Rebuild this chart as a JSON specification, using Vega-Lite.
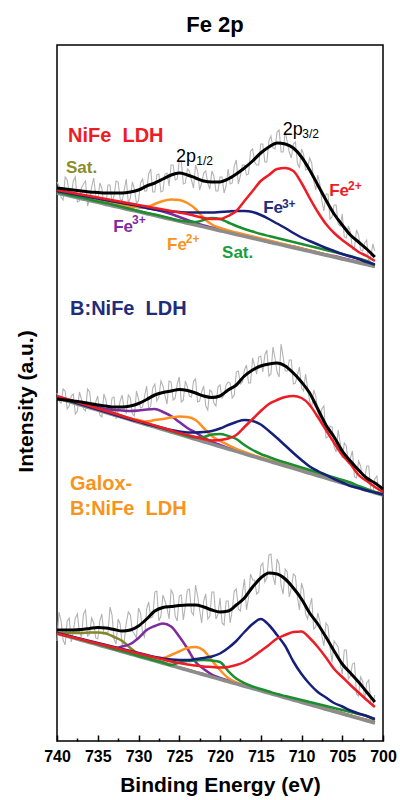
{
"$schema":"https://vega.github.io/schema/vega-lite/v6.json",
"width":326,"height":696,
"autosize":{"type":"none"},
"padding":{"left":57,"top":45,"right":17,"bottom":59},
"background":"white",
"title":{"text":"Fe 2p","fontSize":22,"fontWeight":"bold","font":"Liberation Sans","color":"#000","frame":"group","anchor":"middle","offset":8,"dx":-5},
"config":{"view":{"stroke":"#000","strokeWidth":1.5},"font":"Liberation Sans"},
"resolve":{"axis":{"x":"independent","y":"independent"}},
"datasets":{
"fit":[
{"s":"A","E":740,"bg":548,"env":553,"r":551,"n":550,"o":549,"p":549,"g":549,"ol":549},
{"s":"A","E":739,"bg":546.1,"env":552,"r":549.5,"n":548.5,"o":547,"p":547,"g":547,"ol":547},
{"s":"A","E":738,"bg":544.2,"env":551,"r":548,"n":547,"o":545,"p":545.5,"g":545,"ol":545.5},
{"s":"A","E":737,"bg":542.3,"env":550,"r":546.5,"n":545.5,"o":543.5,"p":544,"g":543.5,"ol":544},
{"s":"A","E":736,"bg":540.5,"env":549,"r":545,"n":544,"o":542,"p":542.5,"g":541.5,"ol":542.5},
{"s":"A","E":735,"bg":538.6,"env":548.5,"r":543.5,"n":542.5,"o":540,"p":541,"g":539.5,"ol":541},
{"s":"A","E":734,"bg":536.7,"env":548,"r":542,"n":541,"o":538.5,"p":539.5,"g":538,"ol":539},
{"s":"A","E":733,"bg":534.8,"env":548,"r":540.5,"n":539.5,"o":537,"p":538,"g":536,"ol":537},
{"s":"A","E":732,"bg":532.9,"env":548,"r":539,"n":538,"o":535.5,"p":536.5,"g":534,"ol":534.5},
{"s":"A","E":731,"bg":531,"env":549,"r":537.5,"n":536.5,"o":534.5,"p":535,"g":532,"ol":532},
{"s":"A","E":730,"bg":529.2,"env":551,"r":536,"n":535,"o":534,"p":534,"g":530,"ol":530},
{"s":"A","E":729,"bg":527.3,"env":555,"r":534.5,"n":533,"o":534,"p":533,"g":528,"ol":528},
{"s":"A","E":728,"bg":525.4,"env":558,"r":533,"n":531.5,"o":537,"p":531.5,"g":526.5,"ol":526},
{"s":"A","E":727,"bg":523.5,"env":562,"r":531.5,"n":530.5,"o":540,"p":529.5,"g":524.5,"ol":524},
{"s":"A","E":726,"bg":521.6,"env":566,"r":530,"n":529.5,"o":541.5,"p":527,"g":522.5,"ol":522},
{"s":"A","E":725,"bg":519.7,"env":568,"r":528.5,"n":529,"o":541,"p":524,"g":520.5,"ol":520},
{"s":"A","E":724,"bg":517.8,"env":566,"r":527,"n":528.5,"o":538,"p":521,"g":519.5,"ol":518},
{"s":"A","E":723,"bg":516,"env":563,"r":525,"n":528.5,"o":532,"p":518,"g":519,"ol":516.5},
{"s":"A","E":722,"bg":514.1,"env":560,"r":523,"n":528.5,"o":523,"p":515.5,"g":521,"ol":514.5},
{"s":"A","E":721,"bg":512.2,"env":559,"r":522,"n":528.5,"o":516.5,"p":513.5,"g":523,"ol":512.5},
{"s":"A","E":720,"bg":510.3,"env":559,"r":522,"n":529,"o":513,"p":511.5,"g":522,"ol":510.5},
{"s":"A","E":719,"bg":508.4,"env":562,"r":525,"n":529.5,"o":510.5,"p":509.5,"g":518.5,"ol":509},
{"s":"A","E":718,"bg":506.5,"env":567,"r":530,"n":530,"o":508.5,"p":507.5,"g":515,"ol":507},
{"s":"A","E":717,"bg":504.6,"env":573,"r":540,"n":530,"o":506.5,"p":505.5,"g":512,"ol":505},
{"s":"A","E":716,"bg":502.8,"env":580,"r":550,"n":529,"o":504.5,"p":504,"g":509.5,"ol":503},
{"s":"A","E":715,"bg":500.9,"env":588,"r":560,"n":526,"o":502.5,"p":502,"g":507,"ol":501},
{"s":"A","E":714,"bg":499,"env":594,"r":566,"n":522,"o":500.5,"p":500,"g":505,"ol":499},
{"s":"A","E":713,"bg":497.1,"env":598,"r":572,"n":517.5,"o":498.5,"p":498,"g":503,"ol":497.5},
{"s":"A","E":712,"bg":495.2,"env":597,"r":573,"n":513,"o":496.5,"p":496,"g":501,"ol":495.5},
{"s":"A","E":711,"bg":493.3,"env":593,"r":570,"n":508,"o":494.5,"p":494.5,"g":499,"ol":493.5},
{"s":"A","E":710,"bg":491.4,"env":584,"r":558,"n":503.5,"o":492.5,"p":492.5,"g":497,"ol":491.5},
{"s":"A","E":709,"bg":489.6,"env":571,"r":543,"n":500,"o":490.5,"p":490.5,"g":495,"ol":490},
{"s":"A","E":708,"bg":487.7,"env":556,"r":529,"n":496.5,"o":488.5,"p":488.5,"g":493,"ol":488},
{"s":"A","E":707,"bg":485.8,"env":541,"r":517,"n":493,"o":486.5,"p":486.5,"g":491,"ol":486},
{"s":"A","E":706,"bg":483.9,"env":527,"r":508,"n":490,"o":484.5,"p":485,"g":489,"ol":484},
{"s":"A","E":705,"bg":482,"env":516,"r":501,"n":487,"o":482.5,"p":483,"g":487,"ol":482},
{"s":"A","E":704,"bg":480.1,"env":506,"r":495,"n":484.5,"o":480.5,"p":481,"g":485,"ol":480.5},
{"s":"A","E":703,"bg":478.3,"env":499,"r":489,"n":482,"o":479,"p":479,"g":482.5,"ol":478.5},
{"s":"A","E":702,"bg":476.4,"env":492,"r":485,"n":479,"o":477,"p":477.5,"g":480,"ol":476.5},
{"s":"A","E":701,"bg":474.5,"env":484,"r":480,"n":476.5,"o":475,"p":475.5,"g":476,"ol":474.5},
{"s":"B","E":740,"bg":343,"env":342,"r":345,"n":344,"o":344,"p":344,"g":344,"ol":344},
{"s":"B","E":739,"bg":340.6,"env":341,"r":342.5,"n":341.5,"o":341.5,"p":342,"g":341.5,"ol":342},
{"s":"B","E":738,"bg":338.1,"env":340,"r":340,"n":339,"o":339,"p":340,"g":339,"ol":340},
{"s":"B","E":737,"bg":335.7,"env":339,"r":337.5,"n":336.5,"o":336.5,"p":338,"g":336.5,"ol":338},
{"s":"B","E":736,"bg":333.3,"env":337.5,"r":335,"n":334,"o":334,"p":336,"g":334,"ol":335.5},
{"s":"B","E":735,"bg":330.9,"env":336,"r":332.5,"n":331.5,"o":332,"p":333.5,"g":332,"ol":333},
{"s":"B","E":734,"bg":328.4,"env":335,"r":330,"n":329,"o":329.5,"p":332,"g":329.5,"ol":330.5},
{"s":"B","E":733,"bg":326,"env":334,"r":327.5,"n":326.5,"o":327,"p":331,"g":327,"ol":328},
{"s":"B","E":732,"bg":323.6,"env":334,"r":325,"n":324,"o":325,"p":330.5,"g":324.5,"ol":325},
{"s":"B","E":731,"bg":321.1,"env":335,"r":322.5,"n":321.5,"o":322.5,"p":330,"g":322,"ol":322},
{"s":"B","E":730,"bg":318.7,"env":337.5,"r":320,"n":319.5,"o":321,"p":330.5,"g":319.5,"ol":319.5},
{"s":"B","E":729,"bg":316.3,"env":341.5,"r":318,"n":317,"o":319.5,"p":331.5,"g":317,"ol":316.5},
{"s":"B","E":728,"bg":313.9,"env":346,"r":315.5,"n":315,"o":321,"p":332,"g":315,"ol":314.5},
{"s":"B","E":727,"bg":311.4,"env":348.5,"r":313,"n":313,"o":322,"p":329,"g":312.5,"ol":312},
{"s":"B","E":726,"bg":309,"env":350,"r":310.5,"n":311,"o":323.5,"p":325,"g":310,"ol":309.5},
{"s":"B","E":725,"bg":306.6,"env":351.5,"r":308,"n":309.5,"o":324.5,"p":319,"g":307.5,"ol":307},
{"s":"B","E":724,"bg":304.1,"env":350.5,"r":306,"n":308.5,"o":324,"p":313,"g":305,"ol":304.5},
{"s":"B","E":723,"bg":301.7,"env":348,"r":304,"n":308.5,"o":321,"p":308.5,"g":303.5,"ol":302},
{"s":"B","E":722,"bg":299.3,"env":345,"r":302,"n":309,"o":313,"p":303.5,"g":304,"ol":299.5},
{"s":"B","E":721,"bg":296.8,"env":343.5,"r":300.5,"n":310,"o":305,"p":299,"g":306.5,"ol":297},
{"s":"B","E":720,"bg":294.4,"env":345,"r":301,"n":312.5,"o":300,"p":296,"g":307,"ol":295},
{"s":"B","E":719,"bg":292,"env":351,"r":302.5,"n":316,"o":296,"p":293,"g":305,"ol":292.5},
{"s":"B","E":718,"bg":289.6,"env":356,"r":306,"n":319,"o":292,"p":290.5,"g":302,"ol":290},
{"s":"B","E":717,"bg":287.1,"env":365,"r":314,"n":321,"o":289,"p":288,"g":296,"ol":287.5},
{"s":"B","E":716,"bg":284.7,"env":371,"r":322,"n":320,"o":286,"p":285.5,"g":291,"ol":285},
{"s":"B","E":715,"bg":282.3,"env":375,"r":330,"n":316.5,"o":283.5,"p":283,"g":287,"ol":282.5},
{"s":"B","E":714,"bg":279.8,"env":377,"r":337,"n":310,"o":281,"p":280.5,"g":284,"ol":280},
{"s":"B","E":713,"bg":277.4,"env":378,"r":341,"n":303,"o":278.5,"p":278,"g":281,"ol":278},
{"s":"B","E":712,"bg":275,"env":375,"r":344,"n":295.5,"o":276,"p":275.5,"g":278.5,"ol":275.5},
{"s":"B","E":711,"bg":272.6,"env":368,"r":345,"n":288,"o":273.5,"p":273,"g":276,"ol":273},
{"s":"B","E":710,"bg":270.1,"env":359,"r":343,"n":281,"o":271,"p":271,"g":273.5,"ol":270.5},
{"s":"B","E":709,"bg":267.7,"env":348,"r":336,"n":274.5,"o":268.5,"p":268.5,"g":271,"ol":268},
{"s":"B","E":708,"bg":265.3,"env":332,"r":324,"n":270,"o":266,"p":266,"g":268.5,"ol":265.5},
{"s":"B","E":707,"bg":262.8,"env":316,"r":311,"n":266,"o":263.5,"p":263.5,"g":266,"ol":263},
{"s":"B","E":706,"bg":260.4,"env":304,"r":298,"n":262,"o":261,"p":261,"g":263.5,"ol":261},
{"s":"B","E":705,"bg":258,"env":290,"r":286,"n":258.5,"o":258.5,"p":258.5,"g":261,"ol":258.5},
{"s":"B","E":704,"bg":255.6,"env":280,"r":277,"n":255,"o":256,"p":256,"g":258.5,"ol":256},
{"s":"B","E":703,"bg":253.1,"env":271,"r":266,"n":253,"o":254,"p":253.5,"g":255,"ol":253.5},
{"s":"B","E":702,"bg":250.7,"env":263,"r":260,"n":250.5,"o":251.5,"p":251,"g":252,"ol":251},
{"s":"B","E":701,"bg":248.3,"env":258,"r":254,"n":248.5,"o":249,"p":248.5,"g":249,"ol":248.5},
{"s":"B","E":700,"bg":245.8,"env":252,"r":249,"n":246.5,"o":246.5,"p":246,"g":246.5,"ol":246},
{"s":"C","E":740,"bg":107.7,"env":111,"r":107.5,"n":108,"o":108,"p":108,"g":108,"ol":107.5},
{"s":"C","E":739,"bg":105.4,"env":111,"r":105.5,"n":106,"o":106,"p":106,"g":106,"ol":108},
{"s":"C","E":738,"bg":103.1,"env":111,"r":103.5,"n":104,"o":103.5,"p":103.5,"g":103.5,"ol":108},
{"s":"C","E":737,"bg":100.8,"env":111.5,"r":101.5,"n":102,"o":101.5,"p":101.5,"g":101.5,"ol":108},
{"s":"C","E":736,"bg":98.5,"env":112.5,"r":99.5,"n":100,"o":99,"p":99,"g":99,"ol":108.5},
{"s":"C","E":735,"bg":96.2,"env":113.5,"r":97.5,"n":98,"o":97,"p":97,"g":97,"ol":108.5},
{"s":"C","E":734,"bg":93.9,"env":113,"r":95.5,"n":96,"o":94.5,"p":94.5,"g":94.5,"ol":107.5},
{"s":"C","E":733,"bg":91.6,"env":111.5,"r":93.5,"n":94,"o":92.5,"p":92.5,"g":92,"ol":104},
{"s":"C","E":732,"bg":89.3,"env":110,"r":91.5,"n":92,"o":90,"p":94.5,"g":90,"ol":100},
{"s":"C","E":731,"bg":87,"env":111,"r":89.5,"n":90,"o":88,"p":97,"g":87.5,"ol":93},
{"s":"C","E":730,"bg":84.7,"env":115,"r":87.5,"n":88,"o":86,"p":103,"g":85,"ol":87},
{"s":"C","E":729,"bg":82.4,"env":122,"r":85.5,"n":86,"o":84.5,"p":111,"g":83,"ol":83.5},
{"s":"C","E":728,"bg":80.1,"env":130,"r":83.5,"n":84,"o":83.5,"p":115,"g":80.5,"ol":81},
{"s":"C","E":727,"bg":77.8,"env":133.5,"r":81.5,"n":82.5,"o":83,"p":117.5,"g":78.5,"ol":78.5},
{"s":"C","E":726,"bg":75.5,"env":134.5,"r":79.5,"n":81.5,"o":86,"p":114.5,"g":76,"ol":76},
{"s":"C","E":725,"bg":73.2,"env":135.5,"r":78,"n":81,"o":89.5,"p":104.5,"g":78.5,"ol":73.5},
{"s":"C","E":724,"bg":70.9,"env":136,"r":76.5,"n":81,"o":93,"p":92.5,"g":80,"ol":71.5},
{"s":"C","E":723,"bg":68.6,"env":136,"r":75.5,"n":82,"o":94,"p":79,"g":80.5,"ol":69},
{"s":"C","E":722,"bg":66.3,"env":134,"r":74.5,"n":83,"o":90.5,"p":72,"g":81,"ol":67},
{"s":"C","E":721,"bg":64,"env":131,"r":74,"n":84.5,"o":80.5,"p":66.5,"g":80.5,"ol":64.5},
{"s":"C","E":720,"bg":61.7,"env":129,"r":73.5,"n":87.5,"o":71,"p":63,"g":79,"ol":62},
{"s":"C","E":719,"bg":59.4,"env":130,"r":74,"n":93,"o":63,"p":60.5,"g":70,"ol":60},
{"s":"C","E":718,"bg":57.1,"env":136,"r":76,"n":100,"o":58.5,"p":58,"g":62.5,"ol":57.5},
{"s":"C","E":717,"bg":54.8,"env":143,"r":79,"n":109,"o":56,"p":55.5,"g":58,"ol":55.5},
{"s":"C","E":716,"bg":52.5,"env":154,"r":84,"n":117,"o":53.5,"p":53,"g":54.5,"ol":53},
{"s":"C","E":715,"bg":50.2,"env":163,"r":90,"n":122,"o":51,"p":51,"g":52,"ol":50.5},
{"s":"C","E":714,"bg":47.9,"env":168,"r":96,"n":116,"o":48.5,"p":48.5,"g":49.5,"ol":48.5},
{"s":"C","E":713,"bg":45.6,"env":167,"r":102.5,"n":106,"o":46.5,"p":46,"g":47,"ol":46},
{"s":"C","E":712,"bg":43.3,"env":162,"r":106,"n":95,"o":44,"p":44,"g":45,"ol":44},
{"s":"C","E":711,"bg":41,"env":153,"r":109,"n":79.5,"o":42,"p":41.5,"g":43,"ol":41.5},
{"s":"C","E":710,"bg":38.7,"env":142,"r":109.5,"n":67,"o":39.5,"p":39.5,"g":41,"ol":39},
{"s":"C","E":709,"bg":36.4,"env":128,"r":103,"n":57,"o":37,"p":37,"g":39,"ol":37},
{"s":"C","E":708,"bg":34.1,"env":117,"r":94,"n":49,"o":35,"p":34.5,"g":37,"ol":34.5},
{"s":"C","E":707,"bg":31.8,"env":104,"r":83.5,"n":43.5,"o":32.5,"p":32.5,"g":35,"ol":32.5},
{"s":"C","E":706,"bg":29.5,"env":90,"r":72,"n":38,"o":30,"p":30,"g":33,"ol":30},
{"s":"C","E":705,"bg":27.2,"env":77,"r":64,"n":34.5,"o":28,"p":28,"g":31,"ol":27.5},
{"s":"C","E":704,"bg":24.9,"env":68,"r":56,"n":30.5,"o":25.5,"p":25.5,"g":29,"ol":25.5},
{"s":"C","E":703,"bg":22.6,"env":59,"r":48.5,"n":27.5,"o":23.5,"p":23,"g":27,"ol":23},
{"s":"C","E":702,"bg":20.3,"env":49,"r":41,"n":25,"o":21,"p":21,"g":25,"ol":21},
{"s":"C","E":701,"bg":18,"env":39,"r":34,"n":22,"o":19,"p":18.5,"g":21,"ol":18.5}
],
"raw":[
{"E":740,"a":559,"b":348,"c":100},{"E":739.5,"a":544,"b":338,"c":120},{"E":739,"a":564,"b":350,"c":96},{"E":738.5,"a":548,"b":335,"c":123},
{"E":738,"a":560,"b":347,"c":109},{"E":737.5,"a":539,"b":330,"c":127},{"E":737,"a":553,"b":342,"c":104},{"E":736.5,"a":560,"b":330,"c":131},
{"E":736,"a":542,"b":349,"c":107},{"E":735.5,"a":563,"b":332,"c":118},{"E":735,"a":539,"b":345,"c":102},{"E":734.5,"a":553,"b":324,"c":127},
{"E":734,"a":535,"b":341,"c":109},{"E":733.5,"a":556,"b":326,"c":134},{"E":733,"a":545,"b":344,"c":102},{"E":732.5,"a":559,"b":330,"c":122},
{"E":732,"a":540,"b":346,"c":96},{"E":731.5,"a":562,"b":328,"c":118},{"E":731,"a":543,"b":343,"c":126},{"E":730.5,"a":552,"b":325,"c":107},
{"E":730,"a":540,"b":342,"c":133},{"E":729.5,"a":562,"b":334,"c":108},{"E":729,"a":550,"b":355,"c":132},{"E":728.5,"a":572,"b":335,"c":123},
{"E":728,"a":549,"b":357,"c":149},{"E":727.5,"a":567,"b":344,"c":120},{"E":727,"a":550,"b":355,"c":146},{"E":726.5,"a":568,"b":337,"c":133},
{"E":726,"a":576,"b":359,"c":151},{"E":725.5,"a":561,"b":343,"c":125},{"E":725,"a":580,"b":364,"c":145},{"E":724.5,"a":557,"b":341,"c":121},
{"E":724,"a":572,"b":354,"c":151},{"E":723.5,"a":561,"b":344,"c":129},{"E":723,"a":576,"b":362,"c":156},{"E":722.5,"a":551,"b":340,"c":131},
{"E":722,"a":568,"b":355,"c":140},{"E":721.5,"a":558,"b":331,"c":122},{"E":721,"a":570,"b":349,"c":149},{"E":720.5,"a":550,"b":335,"c":122},
{"E":720,"a":564,"b":356,"c":143},{"E":719.5,"a":548,"b":346,"c":116},{"E":719,"a":572,"b":359,"c":140},{"E":718.5,"a":558,"b":343,"c":131},
{"E":718,"a":581,"b":369,"c":152},{"E":717.5,"a":565,"b":357,"c":130},{"E":717,"a":576,"b":371,"c":162},{"E":716.5,"a":567,"b":358,"c":143},
{"E":716,"a":592,"b":383,"c":161},{"E":715.5,"a":576,"b":367,"c":147},{"E":715,"a":597,"b":385,"c":175},{"E":714.5,"a":579,"b":386,"c":159},
{"E":714,"a":600,"b":365,"c":186},{"E":713.5,"a":593,"b":394,"c":165},{"E":713,"a":609,"b":369,"c":182},{"E":712.5,"a":589,"b":397,"c":155},
{"E":712,"a":610,"b":370,"c":172},{"E":711.5,"a":589,"b":381,"c":144},{"E":711,"a":597,"b":357,"c":167},{"E":710.5,"a":578,"b":366,"c":144},
{"E":710,"a":592,"b":353,"c":158},{"E":709.5,"a":571,"b":367,"c":127},{"E":709,"a":583,"b":340,"c":134},{"E":708.5,"a":560,"b":351,"c":112},
{"E":708,"a":566,"b":329,"c":128},{"E":707.5,"a":540,"b":332,"c":105},{"E":707,"a":547,"b":303,"c":118},{"E":706.5,"a":522,"b":315,"c":94},
{"E":706,"a":536,"b":294,"c":100},{"E":705.5,"a":517,"b":311,"c":94},{"E":705,"a":527,"b":283,"c":67},{"E":704.5,"a":503,"b":295,"c":91},
{"E":704,"a":509,"b":283,"c":65},{"E":703.5,"a":493,"b":264,"c":78},{"E":703,"a":506,"b":280,"c":45},{"E":702.5,"a":490,"b":263,"c":60},
{"E":702,"a":501,"b":275,"c":58},{"E":701.5,"a":484,"b":251,"c":37},{"E":701,"a":490,"b":262,"c":46},{"E":700.5,"b":246},{"E":700,"b":254},
{"E":739.75,"a":555,"b":340,"c":129},{"E":739.25,"a":541,"b":352,"c":101},{"E":738.75,"a":561,"b":332,"c":120},{"E":738.25,"a":546,"b":345,"c":99},
{"E":737.75,"a":564,"b":327,"c":123},{"E":737.25,"a":540,"b":349,"c":109},{"E":736.75,"a":557,"b":332,"c":127},{"E":736.25,"a":535,"b":352,"c":105},
{"E":735.75,"a":554,"b":332,"c":123},{"E":735.25,"a":546,"b":339,"c":103},{"E":734.75,"a":558,"b":326,"c":120},{"E":734.25,"a":536,"b":347,"c":107},
{"E":733.75,"a":556,"b":327,"c":107},{"E":733.25,"a":539,"b":343,"c":126},{"E":732.75,"a":560,"b":322,"c":97},{"E":732.25,"a":542,"b":340,"c":117},
{"E":731.75,"a":551,"b":331,"c":100},{"E":731.25,"a":538,"b":346,"c":129},{"E":730.75,"a":559,"b":327,"c":110},{"E":730.25,"a":538,"b":350,"c":103},
{"E":729.75,"a":558,"b":333,"c":128},{"E":729.25,"a":550,"b":345,"c":104},{"E":728.75,"a":567,"b":332,"c":139},{"E":728.25,"a":549,"b":353,"c":124},
{"E":727.75,"a":566,"b":340,"c":150},{"E":727.25,"a":549,"b":360,"c":125},{"E":726.75,"a":567,"b":345,"c":140},{"E":726.25,"a":555,"b":360,"c":122},
{"E":725.75,"a":576,"b":341,"c":147},{"E":725.25,"a":562,"b":357,"c":120},{"E":724.75,"a":580,"b":339,"c":146},{"E":724.25,"a":558,"b":360,"c":135},
{"E":723.75,"a":570,"b":345,"c":152},{"E":723.25,"a":553,"b":360,"c":126},{"E":722.75,"a":570,"b":339,"c":145},{"E":722.25,"a":558,"b":349,"c":118},
{"E":721.75,"a":570,"b":335,"c":147},{"E":721.25,"a":552,"b":351,"c":125},{"E":720.75,"a":565,"b":338,"c":149},{"E":720.25,"a":550,"b":354,"c":127},
{"E":719.75,"a":564,"b":343,"c":118},{"E":719.25,"a":555,"b":356,"c":140},{"E":718.75,"a":557,"b":358,"c":118},{"E":718.25,"a":575,"b":346,"c":150},
{"E":717.75,"a":557,"b":370,"c":132},{"E":717.25,"a":576,"b":359,"c":148},{"E":716.75,"a":566,"b":376,"c":131},{"E":716.25,"a":590,"b":358,"c":167},
{"E":715.75,"a":579,"b":375,"c":161},{"E":715.25,"a":576,"b":384,"c":149},{"E":714.75,"a":597,"b":369,"c":178},{"E":714.25,"a":579,"b":391,"c":163},
{"E":713.75,"a":605,"b":367,"c":187},{"E":713.25,"a":592,"b":383,"c":156},{"E":712.75,"a":611,"b":364,"c":177},{"E":712.25,"a":589,"b":384,"c":147},
{"E":711.75,"a":599,"b":370,"c":169},{"E":711.25,"a":583,"b":381,"c":153},{"E":710.75,"a":599,"b":358,"c":165},{"E":710.25,"a":573,"b":374,"c":131},
{"E":709.75,"a":587,"b":350,"c":151},{"E":709.25,"a":572,"b":353,"c":122},{"E":708.75,"a":578,"b":333,"c":143},{"E":708.25,"a":551,"b":345,"c":114},
{"E":707.75,"a":557,"b":323,"c":120},{"E":707.25,"a":530,"b":335,"c":95},{"E":706.75,"a":547,"b":304,"c":115},{"E":706.25,"a":524,"b":314,"c":79},
{"E":705.75,"a":536,"b":289,"c":97},{"E":705.25,"a":515,"b":298,"c":77},{"E":704.75,"a":504,"b":298,"c":91},{"E":704.25,"a":515,"b":277,"c":62},
{"E":703.75,"a":492,"b":290,"c":77},{"E":703.25,"a":511,"b":263,"c":47},{"E":702.75,"a":491,"b":275,"c":64},{"E":702.25,"a":498,"b":261,"c":41},
{"E":701.75,"a":477,"b":275,"c":61},{"E":701.25,"a":497,"b":248,"c":36},{"E":700.75,"b":265},{"E":700.25,"b":252}
],
"names":[
{"t":"NiFe\u00a0 LDH","E":738.65,"v":599,"k":"NiFe LDH"},
{"t":"B:NiFe\u00a0 LDH","E":738.4,"v":426,"k":"B:NiFe LDH"},
{"t":"Galox-","E":738.4,"v":251,"k":"Galox-B:NiFe LDH"},
{"t":"B:NiFe\u00a0 LDH","E":738.4,"v":226,"k":"Galox-B:NiFe LDH"}
],
"tags":[
{"t":"Sat.","E":738.9,"v":568,"k":"Sat. 735"},
{"t":"Fe","E":706.6,"v":545,"k":"Fe2+ 2p3/2"},
{"t":"Fe","E":714.7,"v":528,"k":"Fe3+ 2p3/2"},
{"t":"Fe","E":733.1,"v":509,"k":"Fe3+ 2p1/2"},
{"t":"Fe","E":726.5,"v":491,"k":"Fe2+ 2p1/2"},
{"t":"Sat.","E":719.75,"v":483,"k":"Sat. 719"}
],
"sups":[
{"t":"2+","E":704.3,"v":551,"k":"Fe2+ 2p3/2"},
{"t":"3+","E":712.4,"v":533,"k":"Fe3+ 2p3/2"},
{"t":"3+","E":730.8,"v":517,"k":"Fe3+ 2p1/2"},
{"t":"2+","E":724.2,"v":498,"k":"Fe2+ 2p1/2"}
],
"peaks":[{"t":"2p","E":725.4,"v":579},{"t":"2p","E":712.3,"v":606}],
"subs":[{"t":"1/2","E":722.9,"v":576},{"t":"3/2","E":709.9,"v":603}]
},
"layer":[
{"data":{"name":"raw"},"mark":{"type":"line","color":"#b3b3b3","strokeWidth":1.1},
 "encoding":{
  "x":{"field":"E","type":"quantitative","scale":{"domain":[700,740],"reverse":true,"nice":false,"zero":false},
   "axis":{"orient":"bottom","values":[740,735,730,725,720,715,710,705,700],"tickSize":-6,"tickWidth":1.5,"tickColor":"#000","domain":false,"grid":false,"labelPadding":13,"labelFontSize":16,"labelFontWeight":"bold","labelColor":"#000","labelFont":"Liberation Sans","labelFlush":false,"labelOverlap":false,"format":"d","title":"Binding Energy (eV)","titleFontSize":21,"titleFontWeight":"bold","titleColor":"#000","titleFont":"Liberation Sans","titlePadding":10}},
  "y":{"field":"a","type":"quantitative","scale":{"domain":[0,696],"nice":false,"zero":false},
   "axis":{"orient":"left","title":"Intensity (a.u.)","labels":false,"ticks":false,"domain":false,"grid":false,"titleFontSize":21,"titleFontWeight":"bold","titleColor":"#000","titleFont":"Liberation Sans","titleX":-25,"titleY":356,"titleAngle":-90,"titleAlign":"center","titleBaseline":"alphabetic"}}}},
{"data":{"name":"raw"},"mark":{"type":"line","color":"#b3b3b3","strokeWidth":1.1},
 "encoding":{"x":{"field":"E","type":"quantitative","scale":{"domain":[700,740],"reverse":true,"nice":false,"zero":false},"axis":null},
  "y":{"field":"b","type":"quantitative","scale":{"domain":[0,696],"nice":false,"zero":false},"axis":null}}},
{"data":{"name":"raw"},"mark":{"type":"line","color":"#b3b3b3","strokeWidth":1.1},
 "encoding":{"x":{"field":"E","type":"quantitative","scale":{"domain":[700,740],"reverse":true,"nice":false,"zero":false},"axis":null},
  "y":{"field":"c","type":"quantitative","scale":{"domain":[0,696],"nice":false,"zero":false},"axis":null}}},
{"data":{"name":"fit"},"mark":{"type":"line","color":"#85852a","strokeWidth":2.5,"interpolate":"monotone"},
 "encoding":{"x":{"field":"E","type":"quantitative","scale":{"domain":[700,740],"reverse":true,"nice":false,"zero":false},"axis":null},
  "y":{"field":"ol","type":"quantitative","scale":{"domain":[0,696],"nice":false,"zero":false},"axis":null},"detail":{"field":"s"}}},
{"data":{"name":"fit"},"mark":{"type":"line","color":"#7d2b9e","strokeWidth":2.5,"interpolate":"monotone"},
 "encoding":{"x":{"field":"E","type":"quantitative","scale":{"domain":[700,740],"reverse":true,"nice":false,"zero":false},"axis":null},
  "y":{"field":"p","type":"quantitative","scale":{"domain":[0,696],"nice":false,"zero":false},"axis":null},"detail":{"field":"s"}}},
{"data":{"name":"fit"},"mark":{"type":"line","color":"#ff9020","strokeWidth":2.5,"interpolate":"monotone"},
 "encoding":{"x":{"field":"E","type":"quantitative","scale":{"domain":[700,740],"reverse":true,"nice":false,"zero":false},"axis":null},
  "y":{"field":"o","type":"quantitative","scale":{"domain":[0,696],"nice":false,"zero":false},"axis":null},"detail":{"field":"s"}}},
{"data":{"name":"fit"},"mark":{"type":"line","color":"#8c8c8c","strokeWidth":3.5,"interpolate":"monotone"},
 "encoding":{"x":{"field":"E","type":"quantitative","scale":{"domain":[700,740],"reverse":true,"nice":false,"zero":false},
   "axis":{"orient":"bottom","values":[737.5,732.5,727.5,722.5,717.5,712.5,707.5,702.5],"tickSize":-3,"tickWidth":1.5,"tickColor":"#000","domain":false,"grid":false,"labels":false,"title":null}},
  "y":{"field":"bg","type":"quantitative","scale":{"domain":[0,696],"nice":false,"zero":false},"axis":null},"detail":{"field":"s"}}},
{"data":{"name":"fit"},"mark":{"type":"line","color":"#1b8f2e","strokeWidth":2.5,"interpolate":"monotone"},
 "encoding":{"x":{"field":"E","type":"quantitative","scale":{"domain":[700,740],"reverse":true,"nice":false,"zero":false},"axis":null},
  "y":{"field":"g","type":"quantitative","scale":{"domain":[0,696],"nice":false,"zero":false},"axis":null},"detail":{"field":"s"}}},
{"data":{"name":"fit"},"mark":{"type":"line","color":"#16207a","strokeWidth":2.5,"interpolate":"monotone"},
 "encoding":{"x":{"field":"E","type":"quantitative","scale":{"domain":[700,740],"reverse":true,"nice":false,"zero":false},"axis":null},
  "y":{"field":"n","type":"quantitative","scale":{"domain":[0,696],"nice":false,"zero":false},"axis":null},"detail":{"field":"s"}}},
{"data":{"name":"fit"},"mark":{"type":"line","color":"#ee1c25","strokeWidth":2.5,"interpolate":"monotone"},
 "encoding":{"x":{"field":"E","type":"quantitative","scale":{"domain":[700,740],"reverse":true,"nice":false,"zero":false},"axis":null},
  "y":{"field":"r","type":"quantitative","scale":{"domain":[0,696],"nice":false,"zero":false},"axis":null},"detail":{"field":"s"}}},
{"data":{"name":"fit"},"mark":{"type":"line","color":"#000000","strokeWidth":3,"interpolate":"monotone"},
 "encoding":{"x":{"field":"E","type":"quantitative","scale":{"domain":[700,740],"reverse":true,"nice":false,"zero":false},"axis":null},
  "y":{"field":"env","type":"quantitative","scale":{"domain":[0,696],"nice":false,"zero":false},"axis":null},"detail":{"field":"s"}}},
{"data":{"name":"names"},"mark":{"type":"text","align":"left","baseline":"alphabetic","font":"Liberation Sans","fontSize":20,"fontWeight":"bold"},
 "encoding":{"x":{"field":"E","type":"quantitative","scale":{"domain":[700,740],"reverse":true,"nice":false,"zero":false},"axis":null},
  "y":{"field":"v","type":"quantitative","scale":{"domain":[0,696],"nice":false,"zero":false},"axis":null},"text":{"field":"t"},
  "color":{"field":"k","type":"nominal","scale":{"domain":["NiFe LDH","B:NiFe LDH","Galox-B:NiFe LDH","Fe2+ 2p3/2","Fe3+ 2p3/2","Fe2+ 2p1/2","Fe3+ 2p1/2","Sat. 719","Sat. 735"],"range":["#ee1c25","#1f2d7a","#f7941d","#ee1c25","#1f2d7a","#f7941d","#7d2b9e","#1a9e3c","#8c8c28"]},"legend":null}}},
{"data":{"name":"tags"},"mark":{"type":"text","align":"left","baseline":"alphabetic","font":"Liberation Sans","fontSize":17,"fontWeight":"bold"},
 "encoding":{"x":{"field":"E","type":"quantitative","scale":{"domain":[700,740],"reverse":true,"nice":false,"zero":false},"axis":null},
  "y":{"field":"v","type":"quantitative","scale":{"domain":[0,696],"nice":false,"zero":false},"axis":null},"text":{"field":"t"},
  "color":{"field":"k","type":"nominal","scale":{"domain":["NiFe LDH","B:NiFe LDH","Galox-B:NiFe LDH","Fe2+ 2p3/2","Fe3+ 2p3/2","Fe2+ 2p1/2","Fe3+ 2p1/2","Sat. 719","Sat. 735"],"range":["#ee1c25","#1f2d7a","#f7941d","#ee1c25","#1f2d7a","#f7941d","#7d2b9e","#1a9e3c","#8c8c28"]},"legend":null}}},
{"data":{"name":"sups"},"mark":{"type":"text","align":"left","baseline":"alphabetic","font":"Liberation Sans","fontSize":12,"fontWeight":"bold"},
 "encoding":{"x":{"field":"E","type":"quantitative","scale":{"domain":[700,740],"reverse":true,"nice":false,"zero":false},"axis":null},
  "y":{"field":"v","type":"quantitative","scale":{"domain":[0,696],"nice":false,"zero":false},"axis":null},"text":{"field":"t"},
  "color":{"field":"k","type":"nominal","scale":{"domain":["NiFe LDH","B:NiFe LDH","Galox-B:NiFe LDH","Fe2+ 2p3/2","Fe3+ 2p3/2","Fe2+ 2p1/2","Fe3+ 2p1/2","Sat. 719","Sat. 735"],"range":["#ee1c25","#1f2d7a","#f7941d","#ee1c25","#1f2d7a","#f7941d","#7d2b9e","#1a9e3c","#8c8c28"]},"legend":null}}},
{"data":{"name":"peaks"},"mark":{"type":"text","align":"left","baseline":"alphabetic","font":"Liberation Sans","fontSize":18,"color":"#000"},
 "encoding":{"x":{"field":"E","type":"quantitative","scale":{"domain":[700,740],"reverse":true,"nice":false,"zero":false},"axis":null},
  "y":{"field":"v","type":"quantitative","scale":{"domain":[0,696],"nice":false,"zero":false},"axis":null},"text":{"field":"t"}}},
{"data":{"name":"subs"},"mark":{"type":"text","align":"left","baseline":"alphabetic","font":"Liberation Sans","fontSize":12,"color":"#000"},
 "encoding":{"x":{"field":"E","type":"quantitative","scale":{"domain":[700,740],"reverse":true,"nice":false,"zero":false},"axis":null},
  "y":{"field":"v","type":"quantitative","scale":{"domain":[0,696],"nice":false,"zero":false},"axis":null},"text":{"field":"t"}}}
]
}
